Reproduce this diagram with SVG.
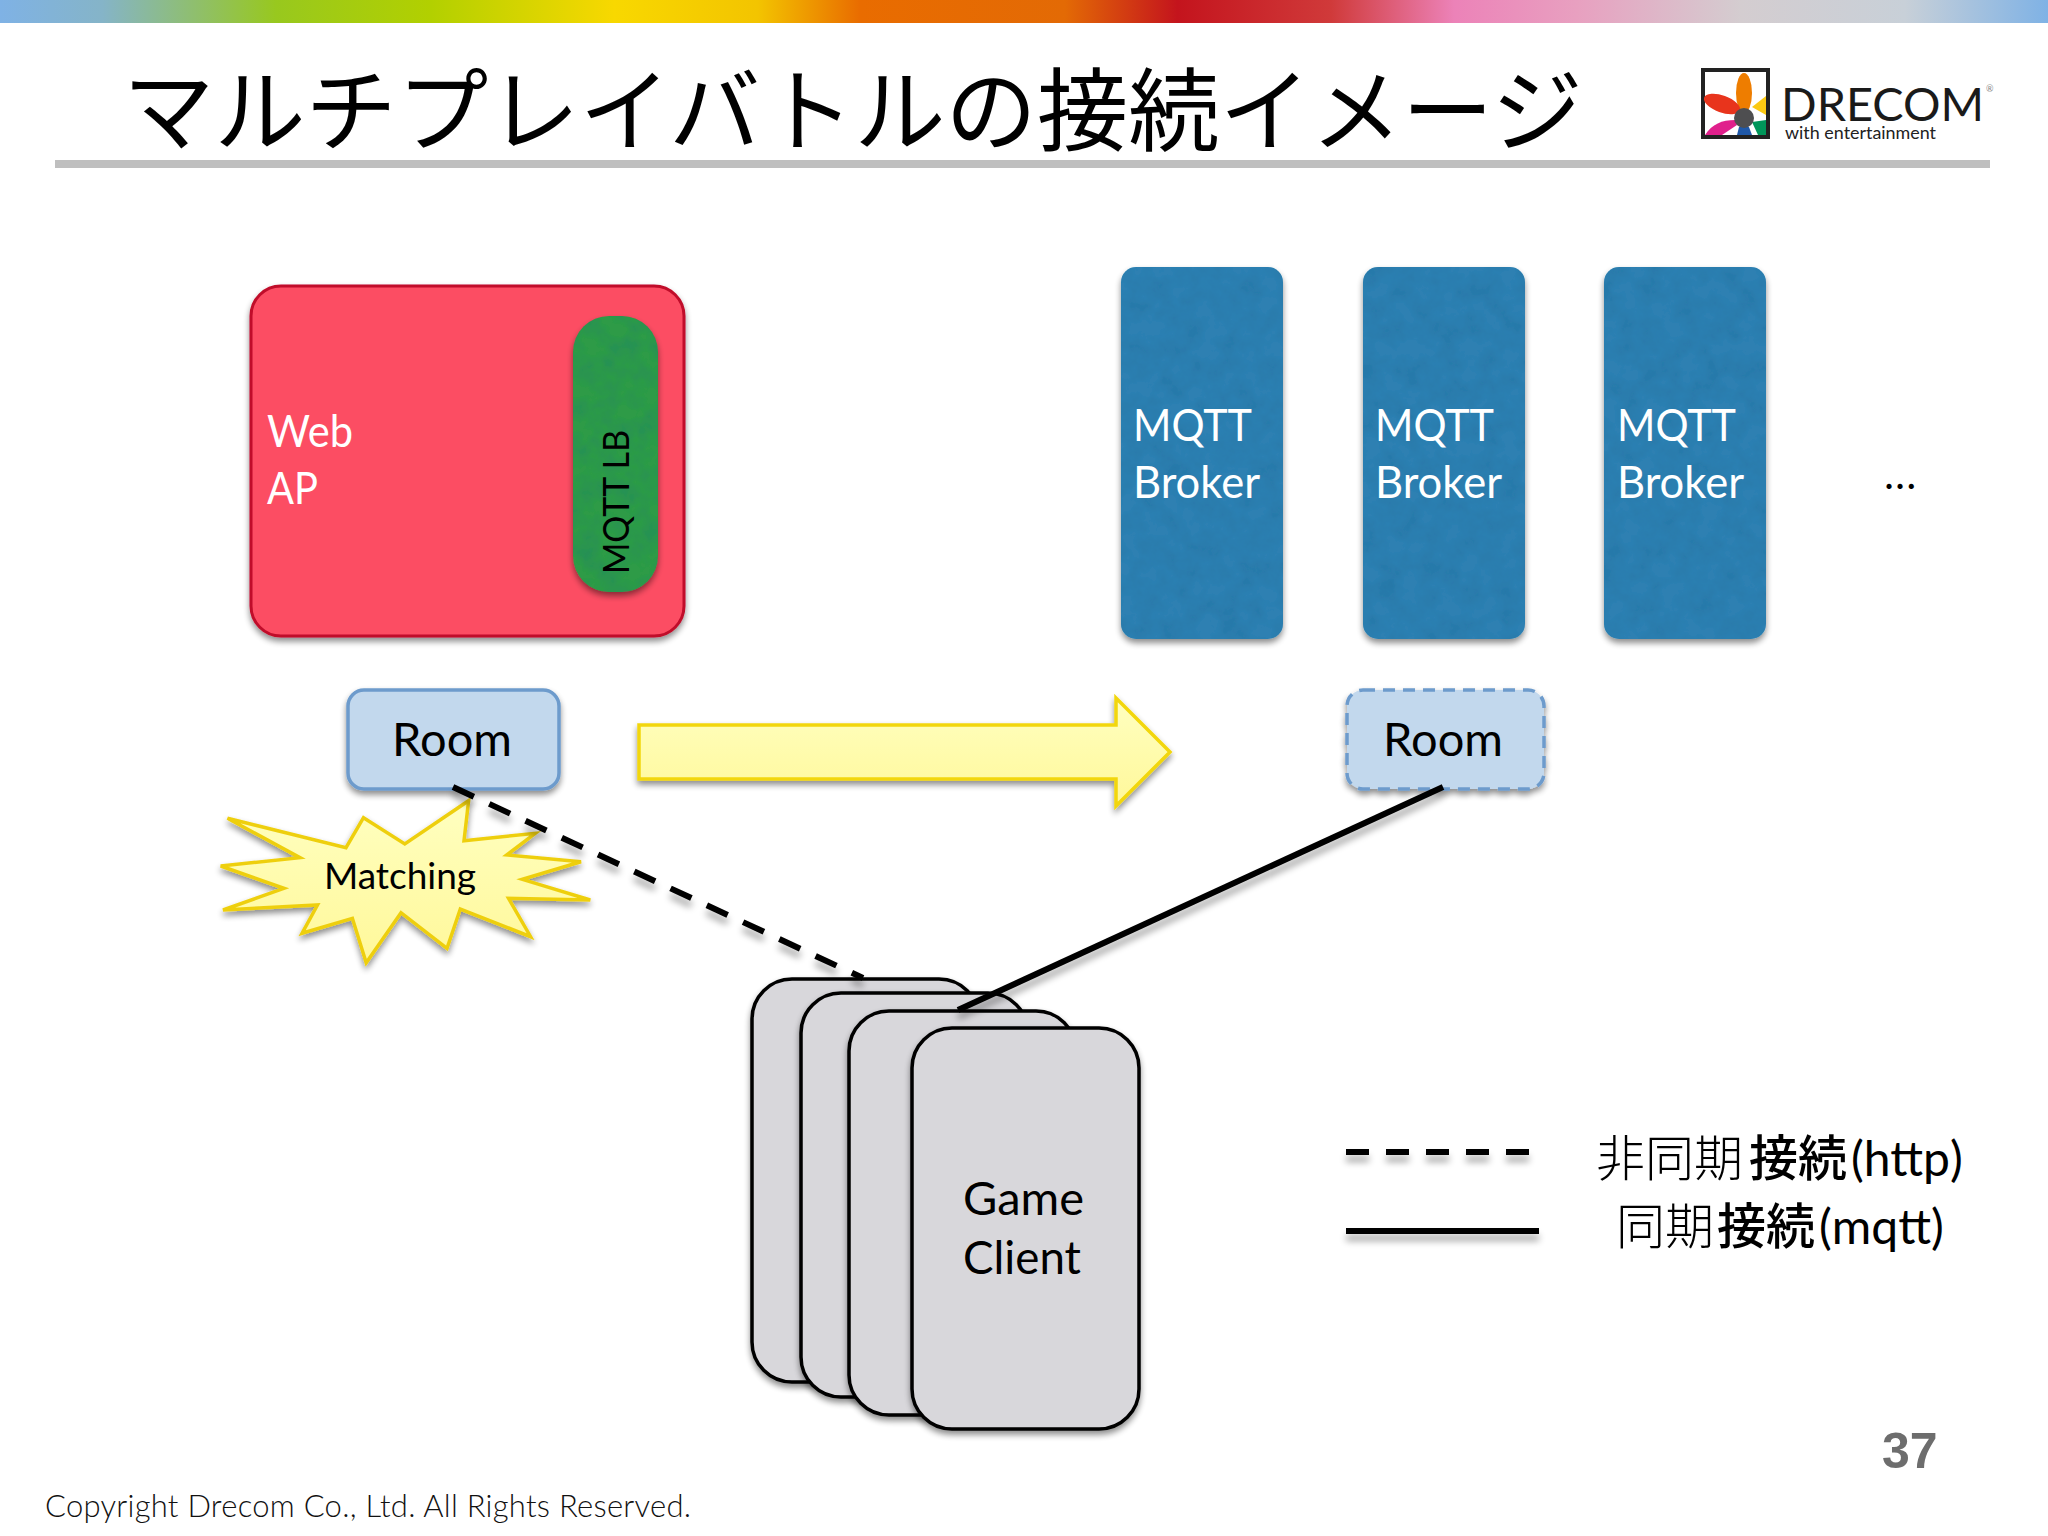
<svg xmlns="http://www.w3.org/2000/svg" width="2048" height="1536" viewBox="0 0 2048 1536">
<defs>
<linearGradient id="bar" x1="0" x2="1" y1="0" y2="0">
<stop offset="0" stop-color="#7fb2e5"/><stop offset="0.05" stop-color="#85b4c8"/><stop offset="0.135" stop-color="#98c81e"/><stop offset="0.21" stop-color="#b2d000"/><stop offset="0.30" stop-color="#f8d800"/><stop offset="0.37" stop-color="#f3c400"/><stop offset="0.42" stop-color="#e96c00"/><stop offset="0.52" stop-color="#e36a05"/><stop offset="0.575" stop-color="#c4141d"/><stop offset="0.65" stop-color="#d03a3a"/><stop offset="0.71" stop-color="#ec82b8"/><stop offset="0.77" stop-color="#e8a0c0"/><stop offset="0.85" stop-color="#d4cdd0"/><stop offset="0.93" stop-color="#c8d0d8"/><stop offset="1" stop-color="#7fb2e5"/>
</linearGradient>
<linearGradient id="yel" x1="0" x2="0" y1="0" y2="1"><stop offset="0" stop-color="#ffffc0"/><stop offset="1" stop-color="#fff89a"/></linearGradient>
<filter id="sh" filterUnits="userSpaceOnUse" x="0" y="0" width="2048" height="1536"><feGaussianBlur in="SourceAlpha" stdDeviation="3"/><feOffset dy="4"/><feComponentTransfer><feFuncA type="linear" slope="0.45"/></feComponentTransfer><feMerge><feMergeNode/><feMergeNode in="SourceGraphic"/></feMerge></filter>
<filter id="lsh" filterUnits="userSpaceOnUse" x="0" y="0" width="2048" height="1536"><feGaussianBlur in="SourceAlpha" stdDeviation="3.5"/><feOffset dy="7"/><feComponentTransfer><feFuncA type="linear" slope="0.35"/></feComponentTransfer><feMerge><feMergeNode/><feMergeNode in="SourceGraphic"/></feMerge></filter>
<filter id="tex" filterUnits="userSpaceOnUse" x="0" y="0" width="2048" height="1536">
<feTurbulence type="fractalNoise" baseFrequency="0.05" numOctaves="4" seed="7" result="n"/>
<feColorMatrix in="n" type="matrix" values="0 0 0 0 0  0 0 0 0 0.1  0 0 0 0 0.2  0.4 0 0 0 -0.14" result="d"/>
<feComposite in="d" in2="SourceAlpha" operator="in" result="dd"/>
<feGaussianBlur in="SourceAlpha" stdDeviation="3"/><feOffset dy="4"/><feComponentTransfer result="s"><feFuncA type="linear" slope="0.45"/></feComponentTransfer>
<feMerge><feMergeNode in="s"/><feMergeNode in="SourceGraphic"/><feMergeNode in="dd"/></feMerge>
</filter>
</defs>
<style>
text{font-family:"Lato","Noto Sans CJK JP",sans-serif;}
.jp{font-family:"Noto Sans CJK JP",sans-serif;}
.blue{fill:#2f80b2;}
.wh{fill:#fff;font-size:44px;}
.bk{fill:#000;font-size:47px;}
.room{fill:#c2d8ed;stroke:#6d9bcc;stroke-width:3.5;}
.card{fill:#d8d7db;stroke:#000;stroke-width:3.5;}
.conn{stroke:#000;stroke-width:6;fill:none;}
.dash{stroke-dasharray:23 17;}
.lat{font-family:"Lato",sans-serif;font-size:48px;}
</style>
<rect width="2048" height="1536" fill="#fff"/>
<rect width="2048" height="23" fill="url(#bar)"/>
<text class="jp" x="123" y="144" font-size="91.3" font-weight="400" fill="#000">マルチプレイバトルの接続イメージ</text>
<rect x="55" y="160" width="1935" height="8" fill="#bfbfbf"/>
<g id="logo">
<rect x="1703" y="70" width="65" height="67" fill="#fff" stroke="#222" stroke-width="4"/>
<ellipse cx="1744" cy="93" rx="8" ry="20" fill="#ee7d00"/>
<ellipse cx="1722" cy="104" rx="19" ry="8.5" transform="rotate(20 1722 104)" fill="#e8341c"/>
<path d="M1752 107L1766 96V115Z" fill="#fbc913"/>
<path d="M1752 122L1766 120V135H1758Z" fill="#00965a"/>
<path d="M1705 135C1712 124 1722 120 1735 120L1737 125L1722 135Z" fill="#e0208c"/>
<path d="M1739 127H1749L1752 135H1737Z" fill="#1f58a8"/>
<circle cx="1744" cy="118" r="10" fill="#4e4e50"/>
<text x="1781" y="121" font-size="47" font-weight="400" fill="#1a1a1a" textLength="203" lengthAdjust="spacingAndGlyphs">DRECOM</text>
<text x="1986" y="92" font-size="9" fill="#888">®</text>
<text x="1785" y="139" font-size="17" font-weight="400" fill="#222" textLength="151" lengthAdjust="spacingAndGlyphs">with entertainment</text>
</g>
<g id="webap">
<rect x="251" y="286" width="433" height="350" rx="30" fill="#fc4d64" stroke="#c00d2a" stroke-width="3" filter="url(#sh)"/>
<text class="wh" x="267" y="447" textLength="86" lengthAdjust="spacingAndGlyphs">Web</text><text class="wh" x="267" y="504" textLength="51" lengthAdjust="spacingAndGlyphs">AP</text>
</g>
<g id="mqttlb">
<rect x="573" y="316" width="85" height="276" rx="36" fill="#2e9b47" filter="url(#tex)"/>
<text transform="translate(629 574) rotate(-90)" font-size="37" fill="#000" textLength="144" lengthAdjust="spacingAndGlyphs">MQTT LB</text>
</g>
<g id="broker1"><rect class="blue" x="1121" y="267" width="162" height="372" rx="15" filter="url(#tex)"/><text class="wh" x="1133" y="441" textLength="119" lengthAdjust="spacingAndGlyphs">MQTT</text><text class="wh" x="1133" y="498" textLength="127" lengthAdjust="spacingAndGlyphs">Broker</text></g>
<g id="broker2"><rect class="blue" x="1363" y="267" width="162" height="372" rx="15" filter="url(#tex)"/><text class="wh" x="1375" y="441" textLength="119" lengthAdjust="spacingAndGlyphs">MQTT</text><text class="wh" x="1375" y="498" textLength="127" lengthAdjust="spacingAndGlyphs">Broker</text></g>
<g id="broker3"><rect class="blue" x="1604" y="267" width="162" height="372" rx="15" filter="url(#tex)"/><text class="wh" x="1617" y="441" textLength="119" lengthAdjust="spacingAndGlyphs">MQTT</text><text class="wh" x="1617" y="498" textLength="127" lengthAdjust="spacingAndGlyphs">Broker</text></g>
<text id="more" x="1885" y="489" font-size="34" font-weight="700" letter-spacing="3" fill="#000">...</text>
<g id="room1"><rect class="room" x="348" y="690" width="211" height="99" rx="16" filter="url(#sh)"/><text class="bk" x="452" y="756" text-anchor="middle">Room</text></g>
<g id="room2"><rect class="room" x="1347" y="690" width="197" height="99" rx="16" stroke-dasharray="12 8" filter="url(#sh)"/><text class="bk" x="1443" y="756" text-anchor="middle">Room</text></g>
<g id="move-arrow"><path d="M639 725H1116V698L1170 752L1116 806V779H639Z" fill="url(#yel)" stroke="#f2d60a" stroke-width="3.5" filter="url(#sh)"/></g>
<g id="card1"><rect class="card" x="752" y="979" width="227" height="403" rx="40" filter="url(#sh)"/></g>
<g id="card2"><rect class="card" x="801" y="993" width="227" height="404" rx="40" filter="url(#sh)"/></g>
<g id="card3"><rect class="card" x="849" y="1011" width="227" height="404" rx="40" filter="url(#sh)"/></g>
<g id="matching"><polygon points="468.6,800.7 464,840.7 535.2,833.3 506.7,855 581,861.7 522.3,879.3 590.3,900 508.5,898.3 530.6,936.7 460.3,909 447,948.3 401,912.7 366.2,962.7 352.4,918.3 302,933.3 317.5,905 223,910 284,888.3 220.7,866 300,857.7 227.5,818.3 346,847.7 363.5,817.7 404.8,844" fill="url(#yel)" stroke="#eecf10" stroke-width="3.5" filter="url(#sh)"/><text x="400" y="889" text-anchor="middle" font-size="37" fill="#000">Matching</text></g>
<g id="connectors" filter="url(#lsh)">
<line class="conn dash" x1="453" y1="787" x2="863" y2="978"/>
<line class="conn" x1="958" y1="1010" x2="1443" y2="787"/>
</g>
<g id="card4"><rect class="card" x="912" y="1028" width="227" height="401" rx="40" filter="url(#sh)"/><text class="bk" x="963" y="1215">Game</text><text class="bk" x="963" y="1274" textLength="118" lengthAdjust="spacingAndGlyphs">Client</text></g>
<g id="legend">
<g filter="url(#lsh)">
<line class="conn dash" x1="1346" y1="1152" x2="1529" y2="1152"/>
<line class="conn" x1="1346" y1="1231" x2="1539" y2="1231"/>
</g>
<text class="jp" y="1176" font-size="49" fill="#000"><tspan x="1596" font-weight="300">非同期</tspan><tspan x="1749" font-weight="500">接続</tspan><tspan class="lat" x="1851" y="1176">(http)</tspan></text>
<text class="jp" y="1244" font-size="49" fill="#000"><tspan x="1616" font-weight="300">同期</tspan><tspan x="1717" font-weight="500">接続</tspan><tspan class="lat" x="1819" y="1244">(mqtt)</tspan></text>
</g>
<text x="1882" y="1468" font-size="50" font-weight="700" style="font-family:'Liberation Sans',sans-serif" fill="#6d6d6d">37</text>
<text x="45" y="1517" font-size="31" font-weight="300" fill="#111" textLength="646" lengthAdjust="spacing">Copyright Drecom Co., Ltd. All Rights Reserved.</text>
</svg>
